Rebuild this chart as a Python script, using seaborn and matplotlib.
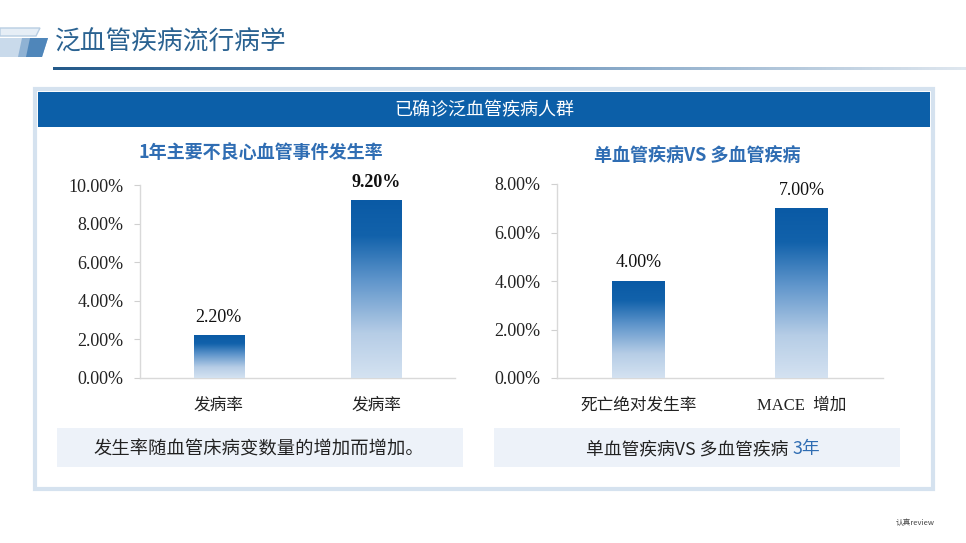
import numpy as np
import pandas as pd
import matplotlib.pyplot as plt
import seaborn as sns
from matplotlib.colors import LinearSegmentedColormap
from matplotlib.patches import Rectangle, Polygon
from matplotlib.ticker import FuncFormatter

# data
left_labels = ["发病率", "发病率"]
left_values = [2.2, 9.2]
right_labels = ["死亡绝对发生率", "MACE  增加"]
right_values = [4.0, 7.0]

page_title = "泛血管疾病流行病学"
band_title = "已确诊泛血管疾病人群"
left_title = "1年主要不良心血管事件发生率"
right_title = "单血管疾病VS 多血管疾病"
left_note = "发生率随血管床病变数量的增加而增加。"
right_note = "单血管疾病VS 多血管疾病"
right_note_tail = "3年"

sns.set_theme(style="white")
plt.rcParams['font.family'] = ['Noto Sans CJK SC', 'DejaVu Sans']

W, H = 966, 543
fig = plt.figure(figsize=(W / 100, H / 100), dpi=100)
fig.patch.set_facecolor("white")

def rect(x0, y0, x1, y1):
    return [x0 / W, 1 - y1 / H, (x1 - x0) / W, (y1 - y0) / H]

# background layer in pixel coords
bg = fig.add_axes([0, 0, 1, 1])
bg.set_xlim(0, W)
bg.set_ylim(H, 0)
bg.axis("off")

# icon at top left
bg.add_patch(Polygon([[0, 28], [40, 28], [36, 36], [0, 36]], closed=True,
                     facecolor="#e6eef6", edgecolor="#b8cde2", lw=1))
bg.add_patch(Polygon([[0, 38], [48, 38], [42, 57], [0, 57]], closed=True,
                     facecolor="#8fb2d4", edgecolor="none"))
bg.add_patch(Polygon([[0, 38], [22, 38], [18, 57], [0, 57]], closed=True,
                     facecolor="#c9daeb", edgecolor="none"))
bg.add_patch(Polygon([[30, 38], [48, 38], [42, 57], [26, 57]], closed=True,
                     facecolor="#4f86ba", edgecolor="none"))

# page title + gradient underline
bg.text(55, 43, page_title, fontsize=18.5, color="#2a6291", va="center", ha="left")
line_grad = np.linspace(0, 1, 256).reshape(1, -1)
line_cmap = LinearSegmentedColormap.from_list("ln", ["#245a8a", "#6f97bd", "#dfe7ef"])
bg.imshow(line_grad, extent=[53, W, 70.5, 67.5], cmap=line_cmap, aspect="auto", zorder=2)

# outer panel
bg.add_patch(Rectangle((35, 89), 898, 400, facecolor="white", edgecolor="#d5e2ef", lw=3, zorder=1))
bg.add_patch(Rectangle((38, 92), 892, 35, facecolor="#0c5fa8", edgecolor="none", zorder=2))
bg.text(484, 110, band_title, fontsize=13, color="white", ha="center", va="center", zorder=3)

# subtitles
bg.text(261, 152, left_title, fontsize=13, color="#2f6db3", ha="center", va="center", fontweight="bold")
bg.text(697, 155, right_title, fontsize=13, color="#2f6db3", ha="center", va="center", fontweight="bold")

# note boxes
bg.add_patch(Rectangle((57, 428), 406, 39, facecolor="#edf2f9", edgecolor="none", zorder=2))
bg.add_patch(Rectangle((494, 428), 406, 39, facecolor="#edf2f9", edgecolor="none", zorder=2))
bg.text(259, 450, left_note, fontsize=13.2, color="#222222", ha="center", va="center", zorder=3)
bg.text(788, 449, right_note, fontsize=12.8, color="#222222", ha="right", va="center", zorder=3,
        family=['Noto Sans CJK SC', 'DejaVu Sans'])
bg.text(793, 449, right_note_tail, fontsize=12.8, color="#2f6db3", ha="left", va="center", zorder=3)

# watermark
bg.text(935, 523, "认真review", fontsize=5.5, color="#444444", ha="right", va="center",
        family=['Noto Sans CJK SC', 'DejaVu Sans'])

bar_cmap = LinearSegmentedColormap.from_list(
    "bar", [(0, "#d4e2f1"), (0.25, "#b6cde6"), (0.55, "#5f95cb"), (0.8, "#1262ab"), (1, "#0a5aa5")])


def draw_chart(ax, labels, values, ymax, bold_max=False):
    df = pd.DataFrame({"pos": range(len(values)), "val": values})
    sns.barplot(data=df, x="pos", y="val", ax=ax, width=0.32, color="#0a5aa5",
                edgecolor="none", errorbar=None)
    grad = np.linspace(0, 1, 256).reshape(-1, 1)
    for p, v in zip(ax.patches, values):
        x0 = p.get_x()
        w = p.get_width()
        ax.imshow(grad, extent=[x0, x0 + w, 0, v], origin="lower", cmap=bar_cmap,
                  aspect="auto", zorder=3)
        weight = "bold" if (bold_max and v == max(values)) else "normal"
        ax.annotate(f"{v:.2f}%", (x0 + w / 2, v), xytext=(0, 13), textcoords="offset points",
                    ha="center", va="center", fontsize=13, fontweight=weight,
                    family="Liberation Serif", color="#111111")
    ax.set_xlim(-0.5, 1.5)
    ax.set_ylim(0, ymax)
    ax.set_yticks(np.arange(0, ymax + 0.01, 2))
    ax.yaxis.set_major_formatter(FuncFormatter(lambda v, _: f"{v:.2f}%"))
    ax.set_xticks(range(len(labels)))
    ax.set_xticklabels(labels, fontsize=12, color="#222222",
                       family=['Liberation Serif', 'Noto Sans CJK SC'])
    for t in ax.get_yticklabels():
        t.set_family("Liberation Serif")
        t.set_fontsize(13)
        t.set_color("#222222")
    ax.tick_params(axis="y", length=4, width=0.8, color="#d0d0d0", pad=8, left=True)
    ax.tick_params(axis="x", length=0, pad=14)
    ax.set_xlabel("")
    ax.set_ylabel("")
    ax.set_facecolor("none")
    for s in ["top", "right"]:
        ax.spines[s].set_visible(False)
    for s in ["left", "bottom"]:
        ax.spines[s].set_color("#d9d9d9")
        ax.spines[s].set_linewidth(1)


ax1 = fig.add_axes(rect(140, 185, 455, 378))
draw_chart(ax1, left_labels, left_values, 10, bold_max=True)

ax2 = fig.add_axes(rect(557, 184, 883, 378))
draw_chart(ax2, right_labels, right_values, 8)

fig.savefig("out.png", dpi=100)
